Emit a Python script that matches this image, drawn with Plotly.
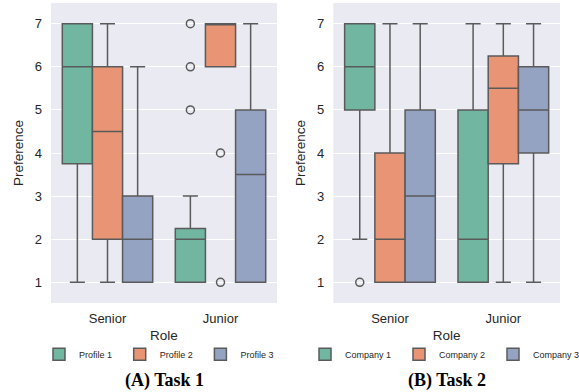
import plotly.graph_objects as go

roles = ["Senior", "Junior"]

# ---- Task 1 (panel A) ----
t1_names = ["Profile 1", "Profile 2", "Profile 3"]
t1_q1 = [[3.75, 1], [2, 6], [1, 1]]
t1_median = [[6, 2], [4.5, 7], [2, 3.5]]
t1_q3 = [[7, 2.25], [6, 7], [3, 5]]
t1_low = [[1, 1], [1, 6], [1, 1]]
t1_high = [[7, 3], [7, 7], [6, 7]]
# outliers: (series index, role index, values)
t1_out_series = [0, 1]
t1_out_role = [1, 1]
t1_out_values = [[5, 6, 7], [4, 1]]

# ---- Task 2 (panel B) ----
t2_names = ["Company 1", "Company 2", "Company 3"]
t2_q1 = [[5, 1], [1, 3.75], [1, 4]]
t2_median = [[6, 2], [2, 5.5], [3, 5]]
t2_q3 = [[7, 5], [4, 6.25], [5, 6]]
t2_low = [[2, 1], [1, 1], [1, 1]]
t2_high = [[7, 7], [7, 7], [7, 7]]
t2_out_series = [0]
t2_out_role = [0]
t2_out_values = [[1]]

y_ticks = [1, 2, 3, 4, 5, 6, 7]

colors = ["#71b6a1", "#e99575", "#95a3c3"]
edge = "#5a5a5a"
n = 3
bw = 0.8 / n
offsets = [(i - (n - 1) / 2) * bw for i in range(n)]

fig = go.Figure()


def add_panel(names, q1, med, q3, lo, hi, out_s, out_r, out_v, xa, ya, leg):
    for i, name in enumerate(names):
        xs = [r + offsets[i] for r in range(len(roles))]
        fig.add_trace(go.Box(
            x=xs, q1=q1[i], median=med[i], q3=q3[i],
            lowerfence=lo[i], upperfence=hi[i],
            orientation="v", width=bw, whiskerwidth=0.5,
            fillcolor=colors[i], line=dict(color=edge, width=1.5),
            boxpoints=False, name=name, legend=leg,
            xaxis=xa, yaxis=ya, hoverinfo="skip",
        ))
    for s, r, vals in zip(out_s, out_r, out_v):
        fig.add_trace(go.Scatter(
            x=[r + offsets[s]] * len(vals), y=vals, mode="markers",
            marker=dict(symbol="circle-open", size=8, color=edge,
                        line=dict(width=1.5, color=edge)),
            showlegend=False, xaxis=xa, yaxis=ya, hoverinfo="skip",
        ))


add_panel(t1_names, t1_q1, t1_median, t1_q3, t1_low, t1_high,
          t1_out_series, t1_out_role, t1_out_values, "x", "y", "legend")
add_panel(t2_names, t2_q1, t2_median, t2_q3, t2_low, t2_high,
          t2_out_series, t2_out_role, t2_out_values, "x2", "y2", "legend2")

W, H = 579, 392
ml, mr, mt, mb = 51, 19, 3, 89.3
pw = W - ml - mr
ph = H - mt - mb


def px_x(p):
    return (p - ml) / pw


def px_y(p):
    return (H - mb - p) / ph


tickfont = dict(family="Liberation Sans, Arial, sans-serif", size=13, color="#262626")
titlefont = dict(family="Liberation Sans, Arial, sans-serif", size=13.5, color="#262626")

xcommon = dict(
    tickmode="array", tickvals=[0, 1], ticktext=roles, range=[-0.5, 1.5],
    showgrid=False, zeroline=False, showline=False, ticks="",
    tickfont=tickfont, ticklabelstandoff=6,
    title=dict(text="Role", font=titlefont, standoff=5),
)
ycommon = dict(
    tickmode="array", tickvals=y_ticks, range=[0.52, 7.48],
    showgrid=True, gridcolor="white", gridwidth=1.2, zeroline=False,
    showline=False, ticks="", tickfont=tickfont, ticklabelstandoff=8,
    title=dict(text="Preference", font=titlefont, standoff=8),
    domain=[0, 1],
)

legfont = dict(family="Liberation Sans, Arial, sans-serif", size=9, color="#262626")

fig.update_layout(
    width=W, height=H,
    margin=dict(l=ml, r=mr, t=mt, b=mb, autoexpand=False),
    paper_bgcolor="white", plot_bgcolor="#eaeaf2",
    xaxis=dict(domain=[0, px_x(277)], anchor="y", **xcommon),
    xaxis2=dict(domain=[px_x(333.3), 1], anchor="y2", **xcommon),
    yaxis=dict(anchor="x", **ycommon),
    yaxis2=dict(anchor="x2", **ycommon),
    boxmode="overlay",
    legend=dict(orientation="h", x=px_x(39), xanchor="left", y=px_y(354),
                yanchor="middle", font=legfont, entrywidth=35.7,
                entrywidthmode="pixels", bgcolor="rgba(0,0,0,0)",
                traceorder="normal"),
    legend2=dict(orientation="h", x=px_x(305), xanchor="left", y=px_y(354),
                 yanchor="middle", font=legfont, entrywidth=49,
                 entrywidthmode="pixels", bgcolor="rgba(0,0,0,0)",
                 traceorder="normal"),
    annotations=[
        dict(text="<b>(A) Task 1</b>", xref="paper", yref="paper",
             x=px_x(164), y=px_y(380), xanchor="center", yanchor="middle",
             showarrow=False,
             font=dict(family="Liberation Serif, Times New Roman, serif", size=18, color="black")),
        dict(text="<b>(B) Task 2</b>", xref="paper", yref="paper",
             x=px_x(447), y=px_y(380), xanchor="center", yanchor="middle",
             showarrow=False,
             font=dict(family="Liberation Serif, Times New Roman, serif", size=18, color="black")),
    ],
)

fig.write_html("out.html", config={"displayModeBar": False},
               post_script="document.body.style.margin='0';document.body.style.overflow='hidden';")
